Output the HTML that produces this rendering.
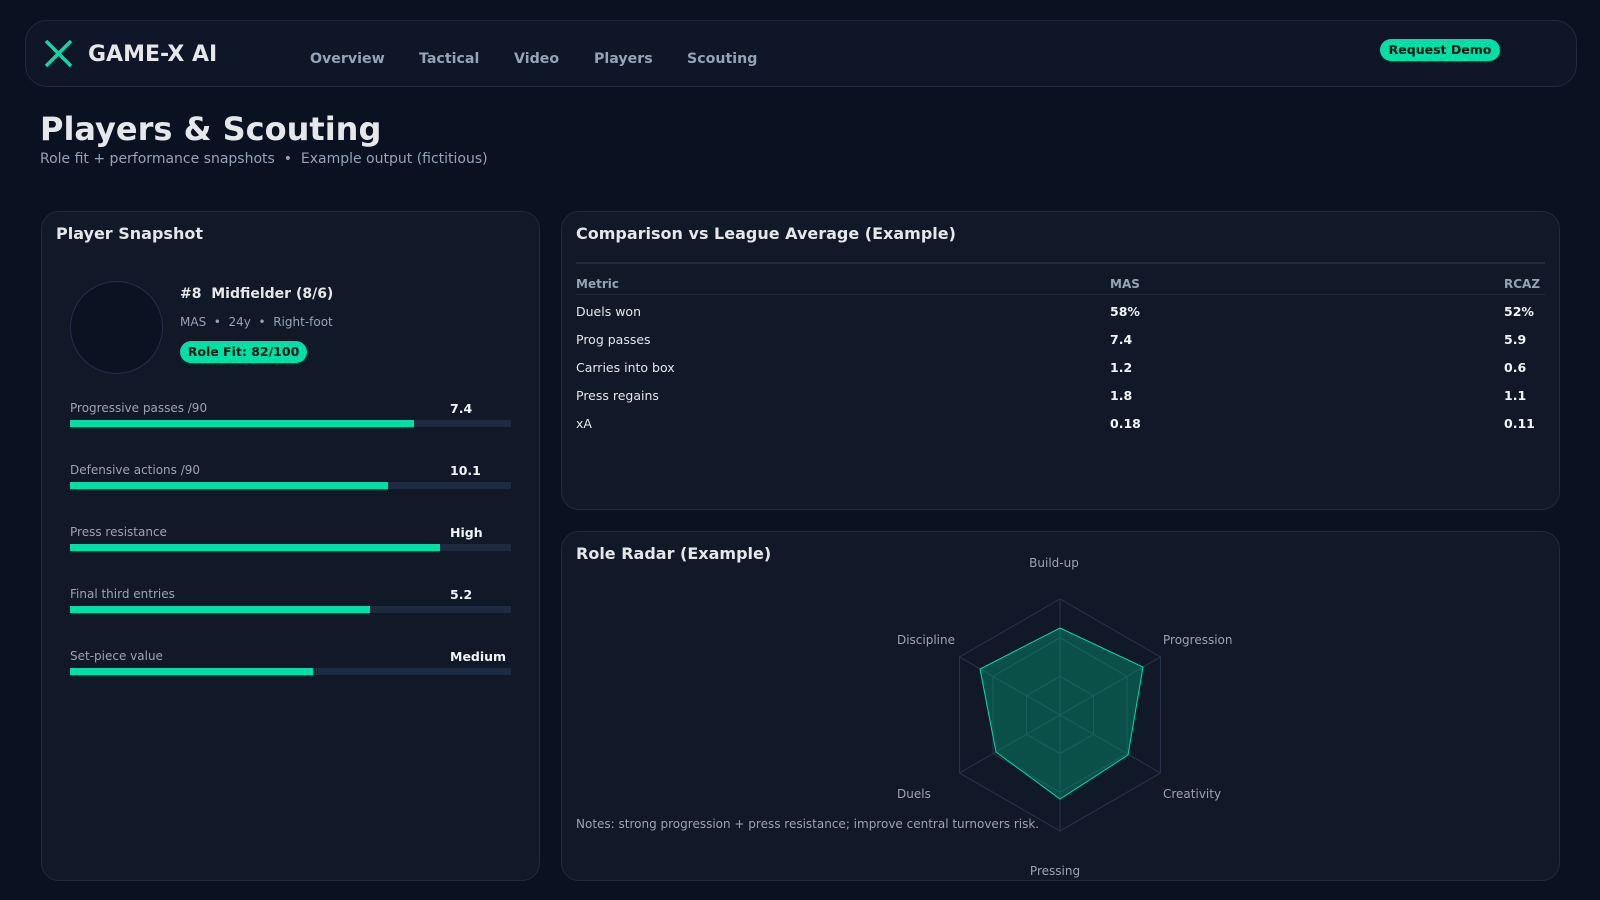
<!DOCTYPE html>
<html><head><meta charset="utf-8"><style>
*{margin:0;padding:0;box-sizing:border-box}
body{width:1600px;height:900px;background:#0a1120;font-family:"DejaVu Sans","Liberation Sans",sans-serif;color:#e5e7eb;position:relative;overflow:hidden}
.a{position:absolute;white-space:nowrap}
.card{position:absolute;background:#111827;border:1.5px solid #1f2a3b;border-radius:18px}
.nav{color:#94a3b8;font-weight:bold;font-size:14.2px;top:51px}
.lbl{font-size:12px;color:#9aa4b2}
.val{font-size:12.5px;font-weight:bold;color:#f1f5f9}
.bar{position:absolute;left:70px;width:441px;height:7px;background:#1e2a40}
.bar i{display:block;height:100%;background:#00dfa5}
.td{font-size:12.5px;color:#e5e7eb}
.tb{font-size:12.5px;font-weight:bold;color:#f1f5f9}
</style></head><body>
<div class="card" style="left:25px;top:20px;width:1552px;height:67px;background:#0e1628;border-radius:22px"></div>
<svg class="a" style="left:44px;top:40px" width="29" height="27"><path d="M2 1 L27 26 M27 1 L2 26" stroke="#00dfa5" stroke-width="3.5"/></svg>
<div class="a" style="left:88px;top:42px;font-size:22px;font-weight:bold;color:#e5e7eb">GAME-X AI</div>
<div class="a nav" style="left:310px">Overview</div>
<div class="a nav" style="left:419px">Tactical</div>
<div class="a nav" style="left:514px">Video</div>
<div class="a nav" style="left:594px">Players</div>
<div class="a nav" style="left:687px">Scouting</div>
<div class="a" style="left:1380px;top:39px;width:120px;height:22px;border-radius:11px;background:#00dfa5;color:#04140f;font-size:12.5px;font-weight:bold;text-align:center;line-height:22px">Request Demo</div>

<div class="a" style="left:40px;top:110px;font-size:32px;font-weight:bold;color:#e5e7eb">Players &amp; Scouting</div>
<div class="a" style="left:40px;top:151px;font-size:14px;color:#94a3b8">Role fit + performance snapshots &nbsp;•&nbsp; Example output (fictitious)</div>

<div class="card" style="left:41px;top:211px;width:499px;height:670px">
<div class="a" style="left:14px;top:12px;font-size:16px;font-weight:bold">Player Snapshot</div>
<div class="a" style="left:28px;top:69px;width:93px;height:93px;border-radius:50%;background:#0b1222;border:1.5px solid #22304a"></div>
<div class="a" style="left:138px;top:74px;font-size:14px;font-weight:bold">#8&nbsp; Midfielder (8/6)</div>
<div class="a" style="left:138px;top:103px;font-size:12px;color:#94a3b8">MAS &nbsp;•&nbsp; 24y &nbsp;•&nbsp; Right-foot</div>
<div class="a" style="left:138px;top:129px;width:127px;height:22px;border-radius:11px;background:#00dfa5;color:#04140f;font-size:12.5px;font-weight:bold;text-align:center;line-height:22px">Role Fit: 82/100</div>
</div>
<div class="a lbl" style="left:70px;top:401px">Progressive passes /90</div><div class="a val" style="left:450px;top:401px">7.4</div>
<div class="bar" style="top:420px"><i style="width:78%"></i></div>
<div class="a lbl" style="left:70px;top:463px">Defensive actions /90</div><div class="a val" style="left:450px;top:463px">10.1</div>
<div class="bar" style="top:482px"><i style="width:72%"></i></div>
<div class="a lbl" style="left:70px;top:525px">Press resistance</div><div class="a val" style="left:450px;top:525px">High</div>
<div class="bar" style="top:544px"><i style="width:84%"></i></div>
<div class="a lbl" style="left:70px;top:587px">Final third entries</div><div class="a val" style="left:450px;top:587px">5.2</div>
<div class="bar" style="top:606px"><i style="width:68%"></i></div>
<div class="a lbl" style="left:70px;top:649px">Set-piece value</div><div class="a val" style="left:450px;top:649px">Medium</div>
<div class="bar" style="top:668px"><i style="width:55%"></i></div>

<div class="card" style="left:561px;top:211px;width:999px;height:299px"></div>
<div class="a" style="left:576px;top:224px;font-size:16px;font-weight:bold">Comparison vs League Average (Example)</div>
<div class="a" style="left:576px;top:262px;width:969px;height:2px;background:#1f2a3b"></div>
<div class="a" style="left:576px;top:277px;font-size:12px;font-weight:bold;color:#94a3b8">Metric</div>
<div class="a" style="left:1110px;top:277px;font-size:12px;font-weight:bold;color:#94a3b8">MAS</div>
<div class="a" style="left:1504px;top:277px;font-size:12px;font-weight:bold;color:#94a3b8">RCAZ</div>
<div class="a" style="left:576px;top:294px;width:969px;height:1px;background:#1f2a3b"></div>
<div class="a td" style="left:576px;top:304px">Duels won</div><div class="a tb" style="left:1110px;top:304px">58%</div><div class="a tb" style="left:1504px;top:304px">52%</div>
<div class="a td" style="left:576px;top:332px">Prog passes</div><div class="a tb" style="left:1110px;top:332px">7.4</div><div class="a tb" style="left:1504px;top:332px">5.9</div>
<div class="a td" style="left:576px;top:360px">Carries into box</div><div class="a tb" style="left:1110px;top:360px">1.2</div><div class="a tb" style="left:1504px;top:360px">0.6</div>
<div class="a td" style="left:576px;top:388px">Press regains</div><div class="a tb" style="left:1110px;top:388px">1.8</div><div class="a tb" style="left:1504px;top:388px">1.1</div>
<div class="a td" style="left:576px;top:416px">xA</div><div class="a tb" style="left:1110px;top:416px">0.18</div><div class="a tb" style="left:1504px;top:416px">0.11</div>

<div class="card" style="left:561px;top:531px;width:999px;height:350px"></div>
<div class="a" style="left:576px;top:544px;font-size:16px;font-weight:bold">Role Radar (Example)</div>
<svg class="a" style="left:0;top:0" width="1600" height="900">
<g fill="none" stroke="#24314a" stroke-width="1.2">
<polygon points="1060,599 1160.5,657 1160.5,773 1060,831 959.5,773 959.5,657"/>
<polygon points="1060,637.7 1127,676.3 1127,753.7 1060,792.3 993,753.7 993,676.3"/>
<polygon points="1060,676.3 1093.5,695.7 1093.5,734.3 1060,753.7 1026.5,734.3 1026.5,695.7"/>
<path d="M1060 715 L1060 599 M1060 715 L1160.5 657 M1060 715 L1160.5 773 M1060 715 L1060 831 M1060 715 L959.5 773 M1060 715 L959.5 657"/>
</g>
<polygon points="1060,628 1143,667 1128,755 1060,799 996,752 980,669" fill="rgba(0,170,125,0.38)" stroke="#00dfa5" stroke-width="1"/>
<g font-size="12" fill="#9aa4b2" font-family="DejaVu Sans,sans-serif">
<text x="1054" y="567" text-anchor="middle">Build-up</text>
<text x="1163" y="644">Progression</text>
<text x="1163" y="798">Creativity</text>
<text x="1055" y="875" text-anchor="middle">Pressing</text>
<text x="897" y="798">Duels</text>
<text x="955" y="644" text-anchor="end">Discipline</text>
<text x="576" y="828">Notes: strong progression + press resistance; improve central turnovers risk.</text>
</g>
</svg>
</body></html>
